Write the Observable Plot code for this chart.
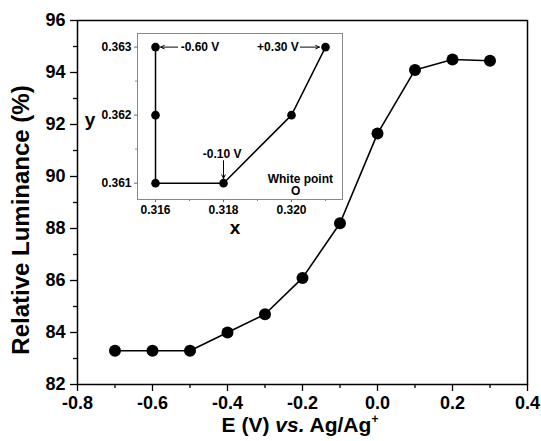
<!DOCTYPE html>
<html>
<head>
<meta charset="utf-8">
<script src="https://cdn.jsdelivr.net/npm/d3@7"></script>
<script src="https://cdn.jsdelivr.net/npm/@observablehq/plot@0.6"></script>
<style>
  html, body { margin: 0; padding: 0; background: white; }
  #wrap { position: relative; width: 541px; height: 441px; }
  #inset { position: absolute; left: 85px; top: 28px; }
</style>
</head>
<body>
<div id="wrap"><div id="main"></div><div id="inset"></div></div>
<script>
// ---- main data ----
const potential = [-0.7, -0.6, -0.5, -0.4, -0.3, -0.2, -0.1, 0.0, 0.1, 0.2, 0.3];
const luminance = [83.3, 83.3, 83.3, 84.0, 84.7, 86.1, 88.2, 91.65, 94.1, 94.5, 94.45];
const xTicks = [-0.8, -0.6, -0.4, -0.2, 0, 0.2, 0.4];
const xMinor = [-0.7, -0.5, -0.3, -0.1, 0.1, 0.3];
const yTicks = [82, 84, 86, 88, 90, 92, 94, 96];
const yMinor = [83, 85, 87, 89, 91, 93, 95];
const yTitle = "Relative Luminance (%)";

// ---- inset data ----
const chromX = [0.316, 0.316, 0.316, 0.318, 0.320, 0.321];
const chromY = [0.363, 0.362, 0.361, 0.361, 0.362, 0.363];
const insetXTicks = [0.316, 0.318, 0.320];
const insetXMinor = [0.317, 0.319, 0.321];
const insetYTicks = [0.361, 0.362, 0.363];
const insetYMinor = [0.3615, 0.3625];
const annText = ["-0.60 V", "+0.30 V", "-0.10 V", "White point", "O"];
const annX = [0.31674, 0.320215, 0.31796, 0.32026, 0.32012];
const annY = [0.363, 0.363, 0.36143, 0.361065, 0.36088];
const annAnchor = ["start", "end", "middle", "middle", "middle"];
const arrowX1 = [0.31665, 0.32026, 0.318];
const arrowY1 = [0.363, 0.363, 0.36133];
const arrowX2 = [0.31615, 0.32082, 0.318];
const arrowY2 = [0.363, 0.363, 0.36107];

const font = "'Liberation Sans', Arial, Helvetica, sans-serif";
const data = potential.map((e, i) => ({e, l: luminance[i]}));
const blank = () => "";

const main = Plot.plot({
  width: 541, height: 441,
  marginLeft: 77, marginRight: 14, marginTop: 20, marginBottom: 57,
  x: {domain: [-0.8, 0.4]},
  y: {domain: [82, 96]},
  style: {fontFamily: font, fontWeight: "bold", color: "black", background: "white", overflow: "visible"},
  marks: [
    Plot.axisX({ticks: xTicks, tickSize: 7, tickPadding: 5, tickFormat: d => d.toFixed(1), label: null, fontSize: 18, fontWeight: "bold", strokeWidth: 1.3}),
    Plot.axisX({ticks: xMinor, tickSize: 4, tickPadding: 0, tickFormat: blank, label: null, strokeWidth: 1.3}),
    Plot.axisY({ticks: yTicks, tickSize: 7, tickPadding: 5, tickFormat: d => String(d), label: null, fontSize: 18, fontWeight: "bold", strokeWidth: 1.3}),
    Plot.axisY({ticks: yMinor, tickSize: 4, tickPadding: 0, tickFormat: blank, label: null, strokeWidth: 1.3}),
    Plot.frame({stroke: "black", strokeWidth: 1.5}),
    Plot.line(data, {x: "e", y: "l", stroke: "black", strokeWidth: 1.6}),
    Plot.dot(data, {x: "e", y: "l", r: 6, fill: "black", stroke: "none"})
  ]
});
document.getElementById("main").appendChild(main);

const ms = d3.select(main);
ms.append("text")
  .attr("transform", "translate(23,220) rotate(-90)")
  .attr("text-anchor", "middle").attr("dominant-baseline", "middle")
  .attr("font-family", font).attr("font-weight", "bold").attr("font-size", 24)
  .attr("fill", "black")
  .text(yTitle);
const xl = ms.append("text")
  .attr("x", 300).attr("y", 432)
  .attr("text-anchor", "middle")
  .attr("font-family", font).attr("font-weight", "bold").attr("font-size", 21)
  .attr("fill", "black");
xl.append("tspan").text("E (V) ");
xl.append("tspan").attr("font-style", "italic").text("vs.");
xl.append("tspan").text(" Ag/Ag");
xl.append("tspan").attr("font-size", 12).attr("dy", -9).text("+");

// ---- inset ----
const pts = chromX.map((x, i) => ({x, y: chromY[i]}));
const anns = annText.map((t, i) => ({t, x: annX[i], y: annY[i], a: annAnchor[i]}));
const arrows = arrowX1.map((x1, i) => ({x1, y1: arrowY1[i], x2: arrowX2[i], y2: arrowY2[i]}));

const inset = Plot.plot({
  width: 262, height: 215,
  marginLeft: 52, marginRight: 5, marginTop: 5, marginBottom: 44,
  x: {domain: [0.31547, 0.3215]},
  y: {domain: [0.36076, 0.3632]},
  style: {fontFamily: font, fontWeight: "bold", color: "black", background: "transparent", overflow: "visible"},
  marks: [
    Plot.axisX({ticks: insetXTicks, tickSize: 3, tickPadding: 3, tickFormat: d => d.toFixed(3), label: null, fontSize: 12, fontWeight: "bold", stroke: "#666"}),
    Plot.axisX({ticks: insetXMinor, tickSize: 2, tickFormat: blank, label: null, stroke: "#888"}),
    Plot.axisY({ticks: insetYTicks, tickSize: 3, tickPadding: 3, tickFormat: d => d.toFixed(3), label: null, fontSize: 12, fontWeight: "bold", stroke: "#666"}),
    Plot.axisY({ticks: insetYMinor, tickSize: 2, tickFormat: blank, label: null, stroke: "#888"}),
    Plot.frame({stroke: "#888", strokeWidth: 1}),
    Plot.line(pts, {x: "x", y: "y", stroke: "black", strokeWidth: 1.5}),
    Plot.dot(pts, {x: "x", y: "y", r: 4.3, fill: "black", stroke: "none"}),
    Plot.arrow(arrows, {x1: "x1", y1: "y1", x2: "x2", y2: "y2", stroke: "black", strokeWidth: 1, headLength: 6, headAngle: 50}),
    Plot.text(anns.filter(d => d.a === "start"), {x: "x", y: "y", text: "t", textAnchor: "start", fontSize: 12, fontWeight: "bold", fill: "black"}),
    Plot.text(anns.filter(d => d.a === "end"), {x: "x", y: "y", text: "t", textAnchor: "end", fontSize: 12, fontWeight: "bold", fill: "black"}),
    Plot.text(anns.filter(d => d.a === "middle"), {x: "x", y: "y", text: "t", textAnchor: "middle", fontSize: 12, fontWeight: "bold", fill: "black"})
  ]
});
document.getElementById("inset").appendChild(inset);
const is = d3.select(inset);
is.append("text").attr("x", 150).attr("y", 201).attr("text-anchor", "middle").attr("dominant-baseline", "middle")
  .attr("font-family", font).attr("font-weight", "bold").attr("font-size", 19).attr("fill", "black").text("x");
is.append("text").attr("x", 5).attr("y", 93).attr("text-anchor", "middle").attr("dominant-baseline", "middle")
  .attr("font-family", font).attr("font-weight", "bold").attr("font-size", 19).attr("fill", "black").text("y");
</script>
</body>
</html>
